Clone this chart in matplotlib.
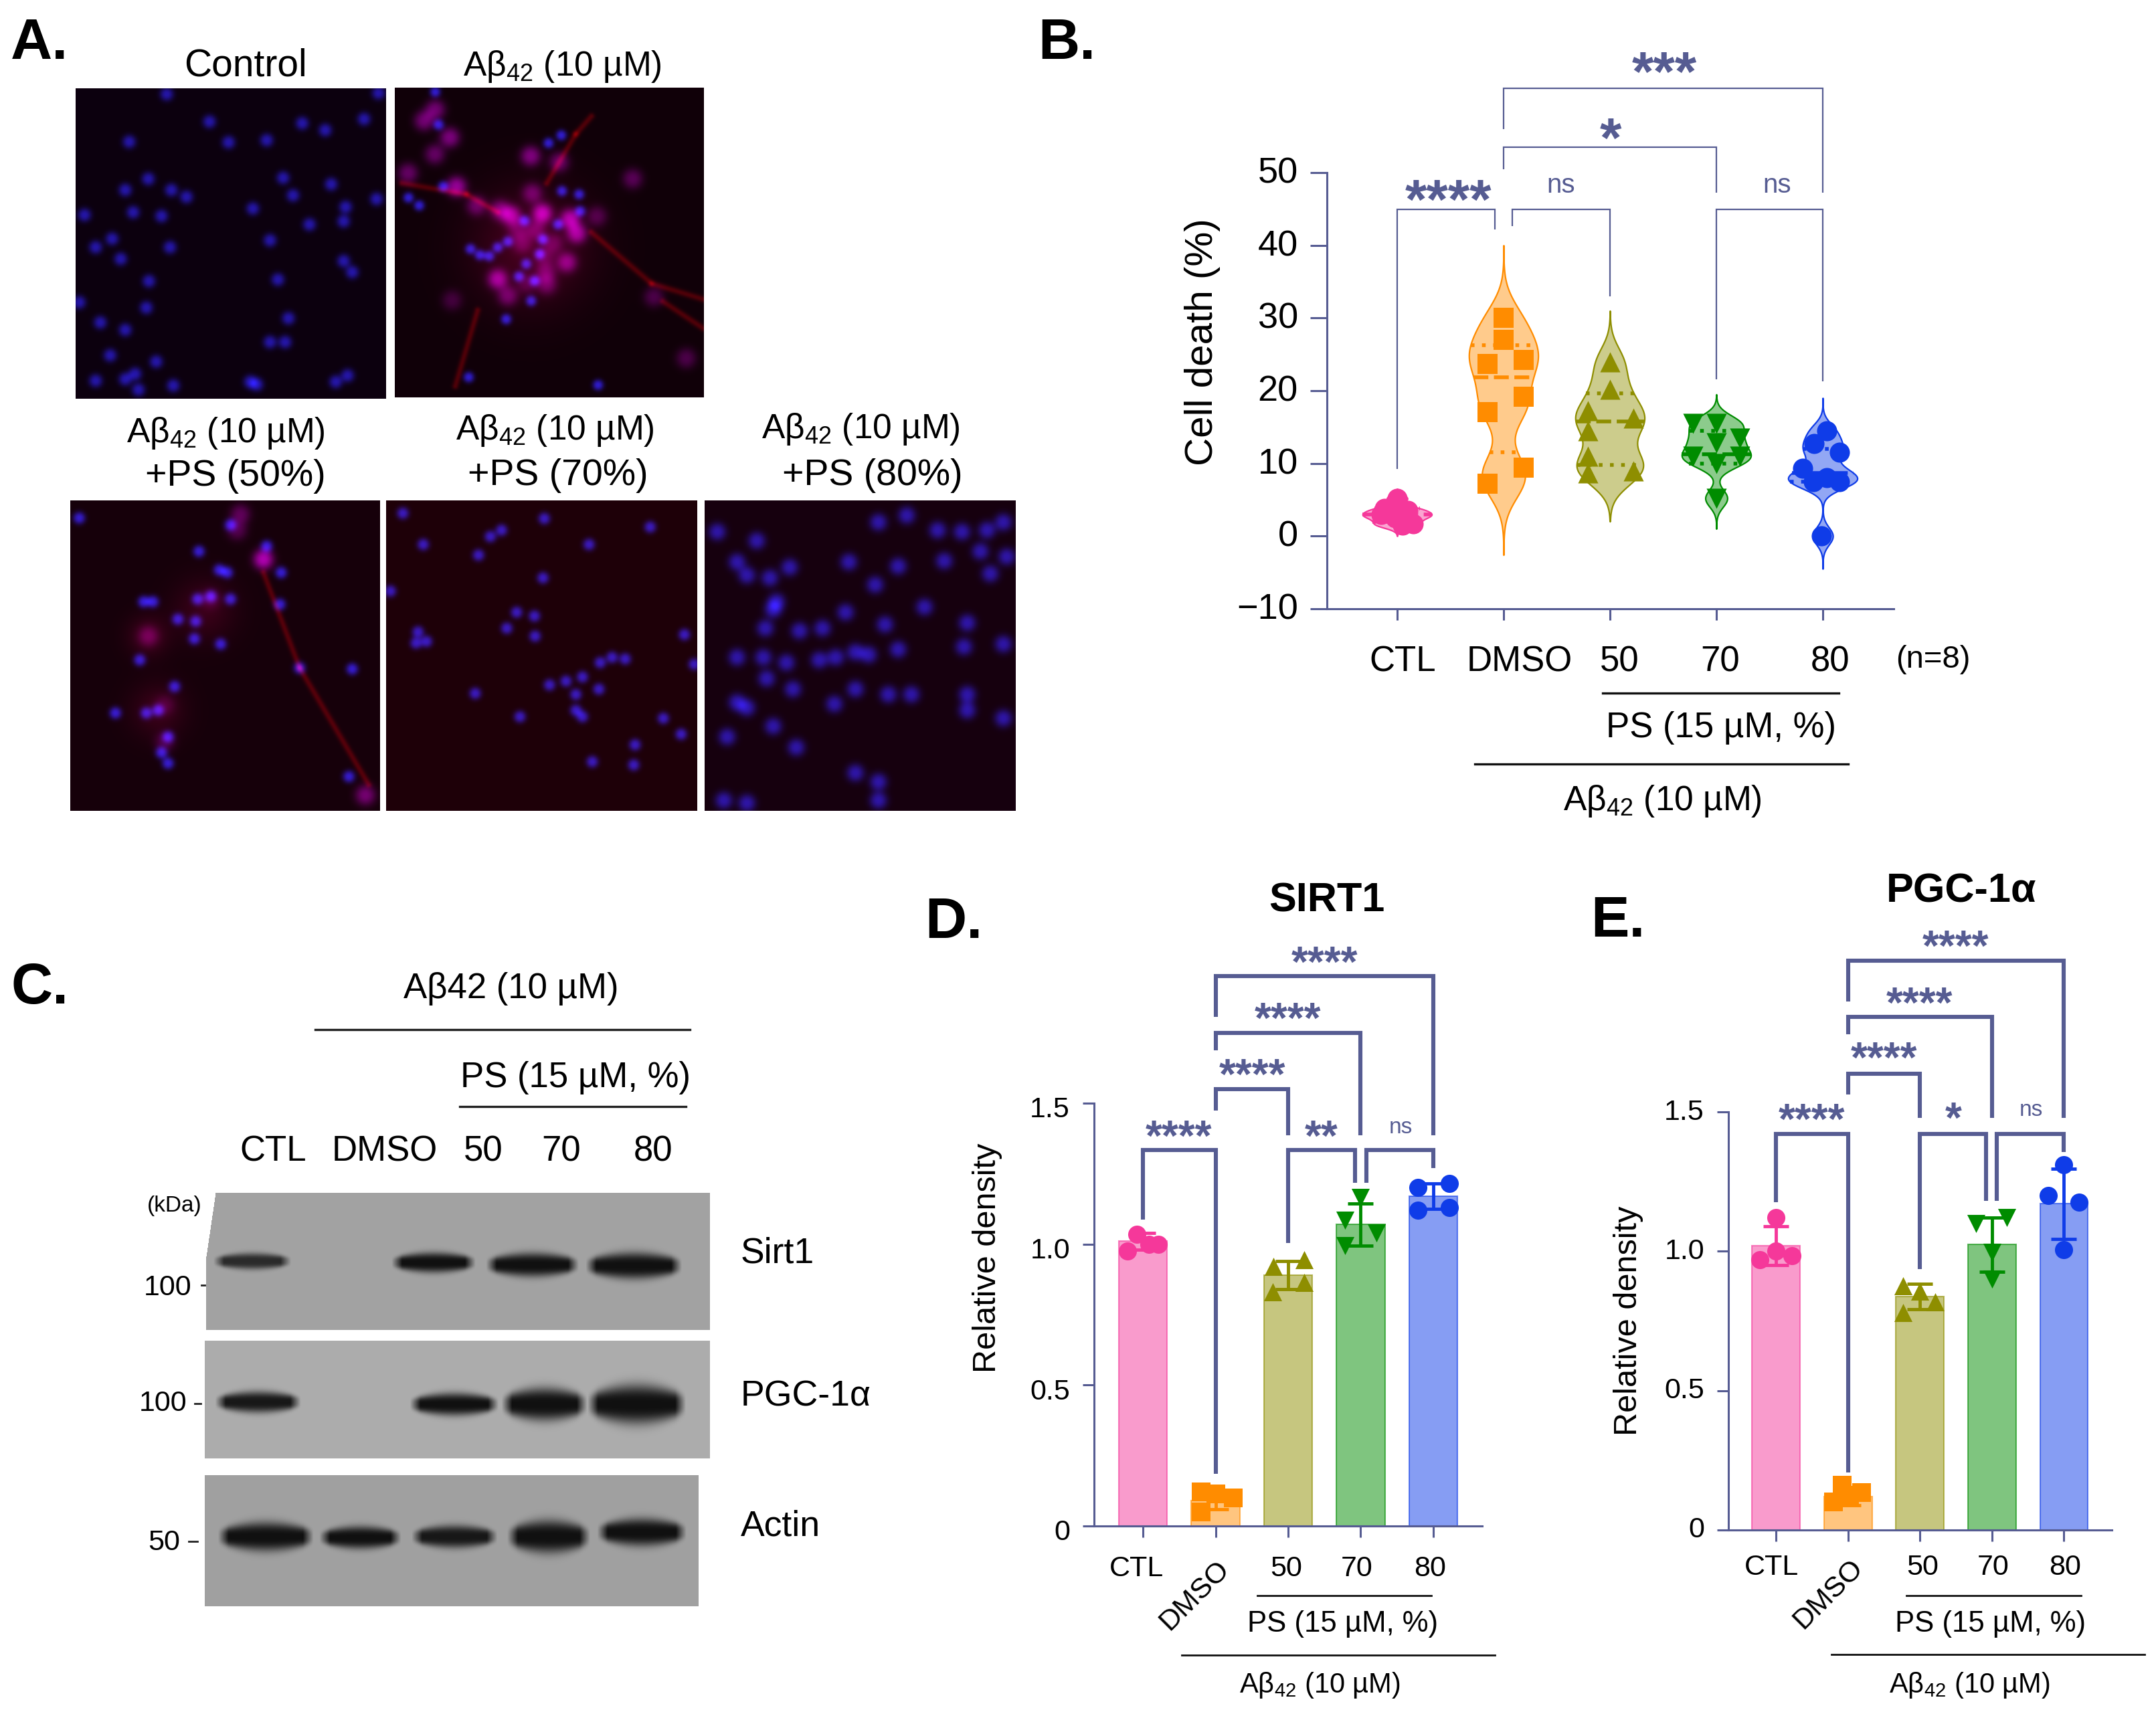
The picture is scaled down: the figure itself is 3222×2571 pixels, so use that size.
import numpy as np
import matplotlib
matplotlib.use("Agg")
import matplotlib.pyplot as plt
from matplotlib.colors import to_rgba
from matplotlib.transforms import Affine2D

plt.rcParams['font.family'] = ['Liberation Sans', 'DejaVu Sans']
plt.rcParams['mathtext.fontset'] = 'custom'
plt.rcParams['mathtext.rm'] = 'Liberation Sans'
plt.rcParams['mathtext.default'] = 'rm'

W, H = 3222, 2571
AXIS = '#565C92'
COLORS = ['#F5389A', '#FF8C00', '#8E8E00', '#008C00', '#0F3CE8']
MARKERS = ['o', 's', '^', 'v', 'o']
GROUPS = ['CTL', 'DMSO', '50', '70', '80']
AB42 = 'Aβ$_{42}$ (10 µM)'
PS_LABEL = 'PS (15 µM, %)'

# panel B, cell death
death_values = [
    [5.2, 3.8, 3.5, 3.0, 2.8, 2.5, 1.7, 1.5],
    [30, 27, 23.7, 24.2, 19.2, 17.1, 9.4, 7.2],
    [24, 20.2, 17.2, 16.2, 14.5, 11, 9, 8.7],
    [15.5, 15.5, 13.5, 12.8, 11, 11, 10, 5.2],
    [14.5, 12.7, 11.5, 9.3, 8, 7.5, 7.5, 0],
]
death_offsets = [
    [0, -.12, .1, -.15, .05, -.02, .15, .05],
    [0, 0, -.15, .19, .19, -.15, .19, -.15],
    [0, 0, -.21, .22, -.21, -.21, .22, -.21],
    [-.22, 0, .22, 0, -.22, .22, 0, 0],
    [.04, -.08, .16, -.19, .04, -.09, .16, -.01],
]
death_bw = [0.5, 2.8, 2.2, 1.2, 1.2]
death_low = [0, -2.6, 2, 1, -4.5]
death_high = [6.5, 40, 31, 19.5, 19]
death_median = [3, 21.8, 15.8, 11.3, 8.7]
death_q1 = [2, 11.5, 9.8, 10, 7.5]
death_q3 = [3.8, 26.3, 19.6, 14.5, 12]

# panel D, SIRT1
sirt_bars = [1.01, 0.09, 0.89, 1.07, 1.17]
sirt_sd = [0.03, 0.03, 0.05, 0.075, 0.045]
sirt_points = [
    [.975, 1.035, 1.0, 1.0],
    [.12, .115, .10, .05],
    [.92, .945, .865, .83],
    [1.165, 1.085, 1.04, .995],
    [1.2, 1.215, 1.12, 1.13],
]
sirt_offsets = [
    [-.21, -.08, .08, .21],
    [-.2, 0, .24, -.2],
    [-.2, .22, .22, -.21],
    [0, -.22, .22, -.22],
    [-.21, .22, -.21, .22],
]

# panel E, PGC-1a
pgc_bars = [1.02, 0.12, 0.838, 1.024, 1.171]
pgc_sd = [0.07, 0.03, 0.045, 0.097, 0.126]
pgc_points = [
    [1.122, 1.0, .97, .985],
    [.16, .10, .135, .125],
    [.877, .858, .818, .78],
    [1.10, 1.12, .995, .90],
    [1.31, 1.2, 1.177, 1.005],
]
pgc_offsets = [
    [0, 0, -.22, .22],
    [-.08, -.2, .19, .02],
    [-.23, 0, .21, -.23],
    [-.22, .21, 0, 0],
    [0, -.22, .21, 0],
]

# brackets: x1, x2, level, left end, right end
death_brackets = [
    (0, .92, 44.9, 9.2, 42.2), (1.08, 2, 44.9, 42.6, 33),
    (1, 3, 53.5, 50.5, 47.2), (1, 4, 61.6, 56, 47.2), (3, 4, 44.9, 21.6, 21.3),
]
sirt_brackets = [
    (0, 1, 1.333, 1.087, .184), (1, 2, 1.549, 1.475, 1.387),
    (1, 3, 1.75, 1.688, 1.387), (1, 4, 1.95, 1.805, 1.387),
    (2, 2.925, 1.333, 1.003, 1.217), (3.08, 4, 1.333, 1.217, 1.27),
]
pgc_brackets = [
    (0, 1, 1.422, 1.177, .206), (1, 2, 1.637, 1.563, 1.478),
    (1, 3, 1.84, 1.778, 1.478), (1, 4, 2.042, 1.895, 1.478),
    (2, 2.92, 1.422, .936, 1.18), (3.07, 4, 1.422, 1.18, 1.357),
]

# panel A, cell positions
control_nuclei = [(253,177),(318,229),(459,232),(494,245),(553,224),(575,175),(196,267),(347,268),(405,264),
    (225,337),(190,358),(260,358),(283,371),(430,335),(445,368),(503,347),(128,405),(202,400),(245,407),
    (384,393),(470,423),(522,417),(525,390),(572,375),(170,450),(410,453),(258,466),(183,488),(145,466),
    (522,492),(535,513),(226,530),(422,527),(222,580),(438,600),(152,608),(120,570),(190,622),(410,645),
    (433,645),(167,670),(237,682),(205,705),(190,715),(145,718),(210,735),(263,727),(380,720),(510,720),
    (528,708),(390,725)]
abeta_nuclei = [(150,20),(165,168),(185,445),(30,495),(78,530),(715,215),(658,250),(718,465),(795,480),(800,555),
    (550,598),(700,615),(632,682),(475,692),(308,725),(350,752),(392,757),(430,718),(618,748),(558,792),
    (525,848),(595,868),(580,958),(468,1040),(300,1300),(880,1335)]
abeta_red = [(150,100,.8),(100,150,.8),(215,225,.9),(148,300,.7),(28,385,.7),(245,445,1.1),(335,530,.7),(578,308,.9),
    (705,335,.7),(585,475,.7),(440,550,.8),(490,575,1.1),(630,565,1.3),(755,590,1.2),(785,655,1.1),(740,785,.9),
    (430,860,1.1),(475,935,.7),(645,830,.6),(650,885,.6),(1035,410,.6),(875,578,.5),(225,955,.4),(1130,940,.5),
    (1275,1215,.5),(540,700,.5),(680,700,.5),(600,640,.6),(520,640,.5),(640,760,.4),(560,880,.4)]
abeta_fibres = [[(0,430),(290,480),(430,560)], [(850,650),(1120,880),(1350,950)], [(850,130),(780,210),(650,430)],
    [(1170,960),(1350,1080)], [(340,1000),(240,1340)]]
ps50_nuclei = [(120,977),(350,990),(405,1030),(302,1040),(427,1080),(345,1080),(333,1075),(218,1135),(232,1135),
    (300,1130),(320,1125),(350,1130),(270,1168),(297,1172),(295,1205),(335,1215),(425,1140),(212,1245),
    (265,1295),(240,1340),(222,1345),(175,1345),(255,1390),(245,1420),(255,1440),(535,1262),(455,1260),(530,1465)]
ps50_red = [(400,1055,1.3),(365,970,.6),(225,1200,.5),(250,1330,.3),(250,1400,.4),(555,1500,.8),(320,1130,.3),(360,1000,.5)]
ps50_fibres = [[(400,1080),(455,1260),(560,1480)]]
ps70_nuclei = [(612,968),(827,978),(988,994),(643,1027),(745,1012),(762,1000),(727,1047),(895,1027),(825,1090),
    (593,1115),(785,1155),(812,1162),(770,1185),(813,1200),(635,1192),(632,1213),(648,1210),(1040,1197),
    (912,1250),(930,1240),(950,1243),(835,1292),(860,1285),(885,1277),(910,1300),(875,1310),(875,1340),
    (885,1352),(722,1308),(790,1352),(1055,1253),(1008,1355),(1035,1385),(965,1405),(900,1437),(963,1443)]
ps80_nuclei = [(1090,1003),(1150,1020),(1335,985),(1378,972),(1425,1000),(1462,1003),(1500,1000),(1525,985),
    (1120,1060),(1135,1085),(1200,1070),(1170,1090),(1290,1060),(1365,1068),(1435,1058),(1490,1040),(1530,1050),
    (1330,1103),(1505,1082),(1180,1135),(1175,1150),(1285,1155),(1405,1145),(1345,1178),(1470,1175),(1163,1185),
    (1215,1190),(1250,1185),(1525,1215),(1120,1240),(1160,1240),(1195,1250),(1245,1245),(1270,1240),(1300,1230),
    (1320,1235),(1365,1225),(1465,1220),(1165,1280),(1205,1300),(1300,1300),(1350,1310),(1385,1310),(1268,1328),
    (1470,1310),(1120,1325),(1135,1335),(1470,1340),(1525,1355),(1175,1370),(1105,1390),(1210,1410),(1300,1458),
    (1335,1475),(1100,1510),(1135,1515),(1335,1510)]

# panel C, bands as left, right, centre, half thickness, strength
sirt_bands = [(372,508,730,13,.82),(683,830,733,16,1),(848,1010,738,19,1),(1022,1190,740,21,1)]
pgc_bands = [(375,525,1047,17,.95),(715,870,1052,18,1),(875,1025,1052,26,1),(1025,1197,1052,31,1)]
actin_bands = [(380,547,1350,23,1),(557,700,1352,18,1),(718,868,1350,18,.95),(885,1030,1350,26,1),(1042,1198,1340,22,1)]

ZOOM_A = (0, 0, .983, .792)
ZOOM_AB = (600, 130, 1 / 3, 1 / 3)


def rect_axes(fig, x0, y0, x1, y1):
    ax = fig.add_axes([x0 / W, 1 - y1 / H, (x1 - x0) / W, (y1 - y0) / H])
    ax.patch.set_alpha(0)
    for side in ('top', 'right'):
        ax.spines[side].set_visible(False)
    for side in ('left', 'bottom'):
        ax.spines[side].set_color(AXIS)
        ax.spines[side].set_linewidth(2.2)
    return ax


def micrograph(over, box, nuclei, radius, amp, red=(), fibres=(), bg=(12, 0, 14), frame=ZOOM_A, halo=()):
    x0, y0, x1, y1 = box
    ox, oy, sx, sy = frame
    yy, xx = np.mgrid[y0:y1, x0:x1].astype(float)
    r = np.full(xx.shape, float(bg[0]))
    g = np.full(xx.shape, float(bg[1]))
    b = np.full(xx.shape, float(bg[2]))
    for hx, hy, size, level in halo:
        d2 = (xx - (ox + hx * sx)) ** 2 + (yy - (oy + hy * sy)) ** 2
        r += level * np.exp(-d2 / size ** 2)
        b += .4 * level * np.exp(-d2 / size ** 2)
    for seg in fibres:
        pts = [(ox + p * sx, oy + q * sy) for p, q in seg]
        for (ax_, ay), (bx, by) in zip(pts[:-1], pts[1:]):
            t = np.clip(((xx - ax_) * (bx - ax_) + (yy - ay) * (by - ay)) / ((bx - ax_) ** 2 + (by - ay) ** 2), 0, 1)
            d2 = (xx - ax_ - t * (bx - ax_)) ** 2 + (yy - ay - t * (by - ay)) ** 2
            r += 62 * np.exp(-d2 / 22)
    for x, y, strength in red:
        d2 = (xx - (ox + x * sx)) ** 2 + (yy - (oy + y * sy)) ** 2
        a = strength * np.exp(-(d2 / 15 ** 2) ** 1.2)
        r += 115 * a
        b += 125 * a
    for x, y in nuclei:
        d2 = (xx - (ox + x * sx)) ** 2 + (yy - (oy + y * sy)) ** 2
        a = np.exp(-(d2 / radius ** 2) ** 1.2)
        b += amp * a
        g += .14 * amp * a
        r += .16 * amp * a
    img = np.clip(np.dstack([r, g, b]) / 255, 0, 1)
    over.imshow(img, extent=(x0, x1, y1, y0), aspect='auto', zorder=1, interpolation='bilinear')


def blot(over, box, bands, grey, scale, slant=0):
    x0, y0, x1, y1 = box
    sx, sy, oy = scale
    yy, xx = np.mgrid[y0:y1, x0:x1]
    img = np.full(xx.shape, float(grey))
    for left, right, yc, half, strength in bands:
        l, rr, c, h = left * sx, right * sx, oy + yc * sy, half * sy
        across = np.clip((xx - l) / 16, 0, 1) * np.clip((rr - xx) / 16, 0, 1)
        curve = 1 - 0.55 * ((xx - (l + rr) / 2) / ((rr - l) / 2)) ** 2
        width = h * np.clip(curve, .2, 1) * 1.4
        img -= (grey - 16) * strength * across * np.exp(-(np.abs(yy - c) / width) ** 3)
    if slant:
        # the top left corner of the film is cut off
        img[xx < x0 + slant * np.clip(1 - (yy - y0) / 95, 0, 1)] = 255
    img = np.clip(img, 0, 255) / 255
    over.imshow(img, extent=(x0, x1, y1, y0), aspect='auto', cmap='gray', vmin=0, vmax=1, zorder=1)


def violin_stats_for(i):
    vals = np.array(death_values[i], float)
    coords = np.linspace(death_low[i], death_high[i], 300)
    dens = np.exp(-0.5 * ((coords[:, None] - vals) / death_bw[i]) ** 2).sum(axis=1)
    dens[0] = 0
    dens[-1] = 0
    return dict(coords=coords, vals=dens, mean=vals.mean(), median=np.median(vals),
                min=coords[0], max=coords[-1], quantiles=[])


def draw_brackets(ax, brackets, lw):
    for x1, x2, level, end1, end2 in brackets:
        ax.plot([x1, x1, x2, x2], [end1, level, level, end2], color=AXIS, lw=lw,
                clip_on=False, solid_joinstyle='miter', solid_capstyle='butt', zorder=5)


def set_group_ticks(ax, offsets, fontsize, pad, length):
    ax.set_xticks(range(5), GROUPS)
    ax.tick_params(axis='x', length=length, width=2.2, color=AXIS, pad=pad, labelsize=fontsize)
    for lab, dx in zip(ax.get_xticklabels(), offsets):
        lab.set_transform(lab.get_transform() + Affine2D().translate(dx, 0))


def shift_y_labels(ax, dy):
    for lab in ax.get_yticklabels():
        lab.set_transform(lab.get_transform() + Affine2D().translate(0, dy))


def bar_panel(fig, rect, xlim, bars, sd, points, offsets, brackets, tick_offsets, xpad, ydy):
    ax = rect_axes(fig, *rect)
    ax.set_xlim(*xlim)
    ax.set_ylim(0, 1.5)
    for i in range(5):
        ax.bar(i, bars[i], width=.667, facecolor=to_rgba(COLORS[i], .5), edgecolor=to_rgba(COLORS[i], .6), lw=1.5, zorder=2)
        ax.errorbar(i, bars[i], yerr=sd[i], color=COLORS[i], elinewidth=3.5, capsize=14, capthick=3.5, zorder=3)
        ax.scatter(i + np.array(offsets[i]), points[i], s=380, marker=MARKERS[i], color=COLORS[i],
                   linewidths=0, clip_on=False, zorder=4)
    draw_brackets(ax, brackets, 4.4)
    ax.set_yticks([0, .5, 1, 1.5], ['0', '0.5', '1.0', '1.5'])
    ax.tick_params(axis='y', length=12, width=2.2, color=AXIS, labelsize=31, pad=14)
    shift_y_labels(ax, ydy)
    set_group_ticks(ax, tick_offsets, 31, xpad, 12)
    dmso = ax.get_xticklabels()[1]
    dmso.set_rotation(45)
    dmso.set_ha('right')
    dmso.set_va('top')
    dmso.set_rotation_mode('anchor')
    return ax


def stars(over, x, y, text, size=46):
    # the asterisk sits near the cap line, so place it by baseline
    over.text(x, y - 6 + .58 * size / .72, text, ha='center', va='baseline', fontsize=size,
              fontweight='bold', color=AXIS, zorder=6)


def main():
    fig = plt.figure(figsize=(W / 100, H / 100), dpi=100, facecolor='white')
    over = fig.add_axes([0, 0, 1, 1])

    # panel A
    micrograph(over, (113, 132, 577, 596), control_nuclei, 10, 150)
    micrograph(over, (590, 131, 1052, 594), abeta_nuclei, 8, 190, abeta_red, abeta_fibres, bg=(16, 0, 8),
               frame=ZOOM_AB, halo=[(580, 720, 85, 55)])
    micrograph(over, (105, 748, 568, 1212), ps50_nuclei, 9, 190, ps50_red, ps50_fibres, bg=(22, 0, 10),
               halo=[(310, 1150, 45, 35), (240, 1340, 40, 35), (225, 1200, 30, 40)])
    micrograph(over, (577, 748, 1042, 1212), ps70_nuclei, 9, 175, bg=(30, 0, 8))
    micrograph(over, (1053, 748, 1518, 1212), ps80_nuclei, 13, 150, bg=(22, 0, 14))
    for x, y, s, size in [(367, 99, 'Control', 41), (840, 99, AB42, 37), (337, 648, AB42, 37), (352, 712, '+PS (50%)', 40),
                          (829, 643, AB42, 37), (834, 711, '+PS (70%)', 40), (1286, 641, AB42, 37), (1304, 711, '+PS (80%)', 40)]:
        over.text(x, y, s, ha='center', va='center', fontsize=size)

    # panel C
    scale = (.856, .664, 1400)
    blot(over, (308, 1783, 1061, 1988), sirt_bands, 162, scale, slant=14)
    blot(over, (306, 2004, 1061, 2180), pgc_bands, 172, scale)
    blot(over, (306, 2205, 1044, 2401), actin_bands, 160, scale)
    over.text(764, 1478, 'Aβ42 (10 µM)', ha='center', va='center', fontsize=38)
    over.plot([471, 1031], [1539, 1539], color='#222222', lw=2.4, zorder=2)
    over.text(860, 1611, PS_LABEL, ha='center', va='center', fontsize=38)
    over.plot([687, 1025], [1654, 1654], color='#222222', lw=2.4, zorder=2)
    for x, s in zip([408, 575, 722, 839, 976], GROUPS):
        over.text(x, 1722, s, ha='center', va='center', fontsize=38)
    over.text(261, 1803, '(kDa)', ha='center', va='center', fontsize=24)
    for x, y, s, t0, t1, ty in [(286, 1925, '100', 301, 306, 1921), (279, 2098, '100', 291, 300, 2098),
                                (269, 2306, '50', 282, 295, 2304)]:
        over.text(x, y, s, ha='right', va='center', fontsize=31)
        over.plot([t0, t1], [ty, ty], color='#222222', lw=2, zorder=2)
    for y, s in [(1873, 'Sirt1'), (2087, 'PGC-1α'), (2282, 'Actin')]:
        over.text(1107, y, s, ha='left', va='center', fontsize=38.5)

    # panel B
    ax = rect_axes(fig, 1983, 258, 2830, 910)
    ax.set_xlim(-.66, 4.667)
    ax.set_ylim(-10, 50)
    stats = [violin_stats_for(i) for i in range(5)]
    parts = ax.violin(stats, positions=range(5), widths=.65, showextrema=False)
    for i, body in enumerate(parts['bodies']):
        body.set_facecolor(to_rgba(COLORS[i], .45))
        body.set_edgecolor(COLORS[i])
        body.set_linewidth(1.6)
        body.set_alpha(None)
        body.set_clip_on(False)
        top = stats[i]['vals'].max()
        for val, style in [(death_median[i], (0, (4, 1.5))), (death_q1[i], (0, (1, 2))), (death_q3[i], (0, (1, 2)))]:
            half = .325 * np.interp(val, stats[i]['coords'], stats[i]['vals']) / top
            ax.hlines(val, i - half, i + half, color=COLORS[i], lw=4, linestyles=[style], zorder=3)
        ax.scatter(i + np.array(death_offsets[i]), death_values[i], s=470, marker=MARKERS[i], color=COLORS[i],
                   linewidths=0, zorder=4)
    draw_brackets(ax, death_brackets, 1.6)
    ax.set_yticks(range(-10, 51, 10))
    ax.tick_params(axis='y', length=18, width=2.2, color=AXIS, labelsize=39, pad=13)
    shift_y_labels(ax, 4)
    set_group_ticks(ax, [8, 24, 14, 6, 11], 38, 27, 12)
    ax.set_ylabel('Cell death (%)', fontsize=42, va='center')
    ax.yaxis.set_label_coords(1797, 511, transform=over.transData)
    for x, y, s in [(2165, 285, '****'), (2407, 193, '*'), (2487, 94, '***')]:
        stars(over, x, y, s, 60)
    for x, y in [(2333, 277), (2656, 277)]:
        over.text(x, y, 'ns', ha='center', va='center', fontsize=29, color=AXIS)
    over.text(2889, 986, '(n=8)', ha='center', va='center', fontsize=34)
    over.plot([2395, 2748], [1036, 1036], color='#111111', lw=2.4, zorder=2)
    over.plot([2204, 2762], [1142, 1142], color='#111111', lw=2.4, zorder=2)
    over.text(2572, 1088, PS_LABEL, ha='center', va='center', fontsize=38)
    over.text(2484, 1197, AB42, ha='center', va='center', fontsize=37)

    # panel D
    ax = bar_panel(fig, (1635, 1649, 2215, 2281), (-.673, 4.673), sirt_bars, sirt_sd, sirt_points,
                   sirt_offsets, sirt_brackets, [-10, 0, -3, -6, -5], 20, -6)
    ax.set_ylabel('Relative density', fontsize=35, va='center')
    ax.yaxis.set_label_coords(1475, 1880, transform=over.transData)
    over.text(1983, 1347, 'SIRT1', ha='center', va='center', fontsize=44, fontweight='bold')
    for x, y, s in [(1762, 1689, '****'), (1872, 1597, '****'), (1925, 1513, '****'), (1980, 1429, '****'), (1975, 1689, '**')]:
        stars(over, x, y, s)
    over.text(2093, 1686, 'ns', ha='center', va='center', fontsize=24, color=AXIS)
    over.plot([1879, 2139], [2385, 2385], color='#111111', lw=2, zorder=2)
    over.plot([1766, 2234], [2474, 2474], color='#111111', lw=2, zorder=2)
    over.text(2007, 2428, PS_LABEL, ha='center', va='center', fontsize=31.5)
    over.text(1972, 2519, AB42, ha='center', va='center', fontsize=30)

    # panel E
    ax = bar_panel(fig, (2583, 1662, 3156, 2287), (-.66, 4.665), pgc_bars, pgc_sd, pgc_points,
                   pgc_offsets, pgc_brackets, [-7, 2, 4, 2, 2], 14, 4)
    ax.set_ylabel('Relative density', fontsize=35, va='center')
    ax.yaxis.set_label_coords(2433, 1974, transform=over.transData)
    over.text(2931, 1333, 'PGC-1α', ha='center', va='center', fontsize=44, fontweight='bold')
    for x, y, s in [(2708, 1664, '****'), (2816, 1572, '****'), (2869, 1490, '****'), (2923, 1405, '****'), (2919, 1662, '*')]:
        stars(over, x, y, s)
    over.text(3035, 1660, 'ns', ha='center', va='center', fontsize=24, color=AXIS)
    over.plot([2849, 3110], [2385, 2385], color='#111111', lw=2, zorder=2)
    over.plot([2737, 3205], [2473, 2473], color='#111111', lw=2, zorder=2)
    over.text(2975, 2428, PS_LABEL, ha='center', va='center', fontsize=31.5)
    over.text(2943, 2519, AB42, ha='center', va='center', fontsize=30)

    # panel letters
    for x, y, s in [(59, 66, 'A.'), (1594, 66, 'B.'), (60, 1478, 'C.'), (1425, 1380, 'D.'), (2418, 1378, 'E.')]:
        over.text(x, y, s, ha='center', va='center', fontsize=62, fontweight='bold')

    over.set_xlim(0, W)
    over.set_ylim(H, 0)
    over.axis('off')
    fig.savefig('out.png', dpi=100, facecolor='white')


if __name__ == "__main__":
    main()
